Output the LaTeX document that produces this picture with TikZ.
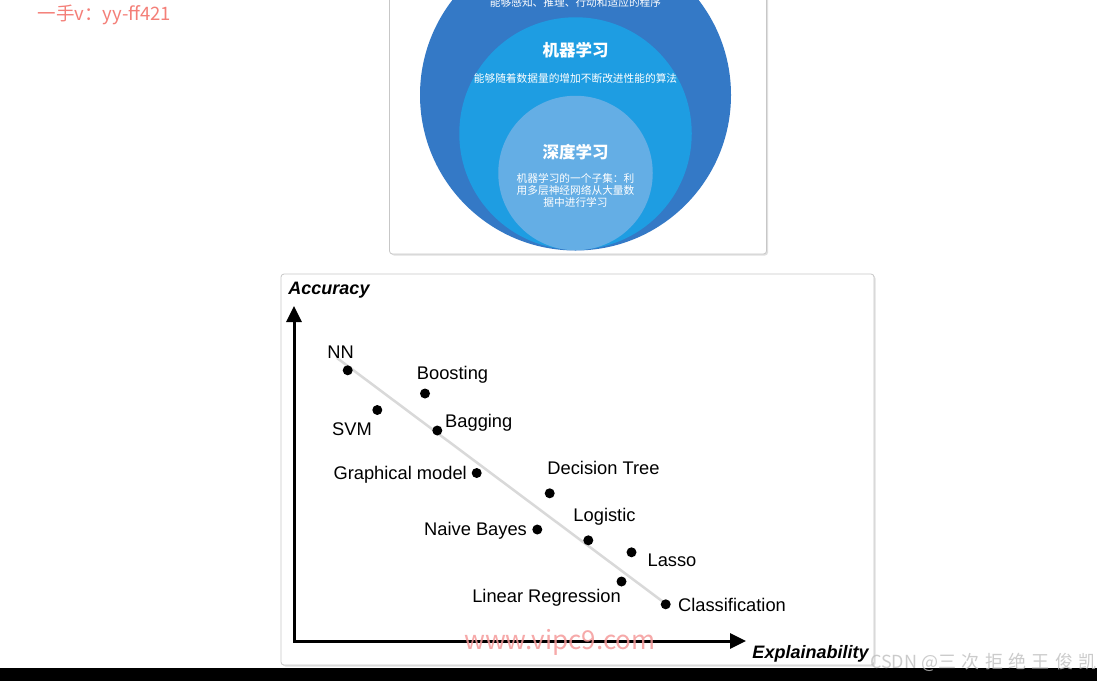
\documentclass[tikz,border=0pt]{standalone}
\usepackage{fontspec}
\usepackage{xcolor}
\usepackage{tikz}
\usetikzlibrary{positioning, arrows.meta}

\setmainfont{Liberation Sans}
\newfontfamily\cjk{Noto Sans CJK SC}
\newfontfamily\wmcjk[LetterSpace=30]{Noto Sans CJK SC}

\definecolor{aiblue}{HTML}{3479C6}
\definecolor{mlblue}{HTML}{1E9DE2}
\definecolor{dlblue}{HTML}{64AEE5}
\definecolor{wmred}{HTML}{F47F78}
\definecolor{wmpink}{HTML}{F59A9A}

\begin{document}
\begin{tikzpicture}[
    x=1pt, y=-1pt,
    every node/.style={inner sep=0pt},
    card/.style={fill=white, draw=black!22, line width=0.8pt, rounded corners=3pt},
    cardshadow/.style={fill=black!12, rounded corners=3pt},
    ring/.style={circle, minimum size=#1, inner sep=0pt},
    cjktitle/.style={text=white, font=\cjk\bfseries\fontsize{16.5}{18}\selectfont},
    cjktext/.style={text=white, font=\cjk\fontsize{10.7}{12.2}\selectfont, align=center},
    mdot/.style={circle, fill=black, minimum size=10pt},
    mname/.style={font=\fontsize{18.3}{20}\selectfont},
    axisname/.style={font=\fontsize{18}{20}\selectfont\bfseries\itshape},
    axis/.style={line width=3pt,
                 {Triangle[length=16pt,width=15pt]}-{Triangle[length=16pt,width=15pt]}},
    trend/.style={draw=black!15, line width=2.5pt},
]

\useasboundingbox (0,0) rectangle (1097,681);
\clip (0,0) rectangle (1097,681);
\fill[white] (0,0) rectangle (1097,681);

% AI / ML / DL card
\fill[cardshadow] (391,-8) rectangle (768,255.5);
\draw[card] (389.5,-10) rectangle (766.5,254);

\node[ring=311pt, fill=aiblue] (ai) at (575.5,95) {};
\node[ring=232.5pt, fill=mlblue] (ml) at (575.5,133.5) {};
\node[ring=154.5pt, fill=dlblue] (dl) at (575.5,173) {};

\node[cjktext] (aitext) at (575.5,2) {能够感知、推理、行动和适应的程序};
\node[cjktitle] (mltitle) at (575.5,50) {机器学习};
\node[cjktext] (mltext) at (575.5,78) {能够随着数据量的增加不断改进性能的算法};
\node[cjktitle] (dltitle) at (575.5,152) {深度学习};
\node[cjktext] (dltext) at (575.5,190.5)
    {机器学习的一个子集：利\\用多层神经网络从大量数\\据中进行学习};

% Accuracy / explainability card
\fill[cardshadow] (282.5,275.5) rectangle (875.5,666.5);
\draw[card] (281,274) rectangle (874,665);

\node[axisname] (acc) at (329,290) {Accuracy};
\node[axisname] (expl) at (810.5,654) {Explainability};

\coordinate (ytip) at (294,306);
\coordinate (origin) at (294,641);
\coordinate (xtip) at (746,641);
\draw[axis] (ytip) -- (origin) -- (xtip);

\coordinate (trendA) at (337,358);
\coordinate (trendB) at (662,601);
\draw[trend] (trendA) -- (trendB);

% Methods
\node[mdot] (nn) at (347.7,370.3) {};
\node[mdot] (boost) at (425,393.5) {};
\node[mdot] (svm) at (377.3,410) {};
\node[mdot] (bag) at (437.3,430.5) {};
\node[mdot] (gm) at (476.7,473) {};
\node[mdot] (dt) at (549.7,493.3) {};
\node[mdot] (nb) at (537.3,529.5) {};
\node[mdot] (logi) at (588.3,540.3) {};
\node[mdot] (lasso) at (631.5,552.3) {};
\node[mdot] (lr) at (621.5,581.5) {};
\node[mdot] (cls) at (665.7,604.3) {};

\node[mname] (nnlbl) at (340.5,352) {NN};
\node[mname] (boostlbl) at (452.5,375) {Boosting};
\node[mname] (svmlbl) at (352,429) {SVM};
\node[mname, anchor=west] (baglbl) at (445,422.5) {Bagging};
\node[mname, left=4.5pt of gm, yshift=-2pt] (gmlbl) {Graphical model};
\node[mname] (dtlbl) at (603.5,467.5) {Decision Tree};
\node[mname, left=5pt of nb, yshift=-1.5pt] (nblbl) {Naive Bayes};
\node[mname] (logilbl) at (604.5,516.5) {Logistic};
\node[mname] (lassolbl) at (672,560.5) {Lasso};
\node[mname, anchor=east] (lrlbl) at (621,597.5) {Linear Regression};
\node[mname, right=7pt of cls, yshift=-1pt] (clslbl) {Classification};

% Watermarks
\node[text=wmred, font=\cjk\fontsize{18.5}{20}\selectfont] (wm1) at (104.5,15) {一手v：yy-ff421};
\node[text=wmpink, opacity=0.85, font=\cjk\fontsize{26}{28}\selectfont] (wm2) at (560,642) {www.vipc9.com};
\fill[black] (0,668) rectangle (1097,681);
\node[text=black!25, opacity=0.8, font=\cjk\fontsize{18}{20}\selectfont, anchor=west] (wm3) at (870,662)
    {CSDN @{\wmcjk 三次拒绝王俊凯}};

\end{tikzpicture}
\end{document}
